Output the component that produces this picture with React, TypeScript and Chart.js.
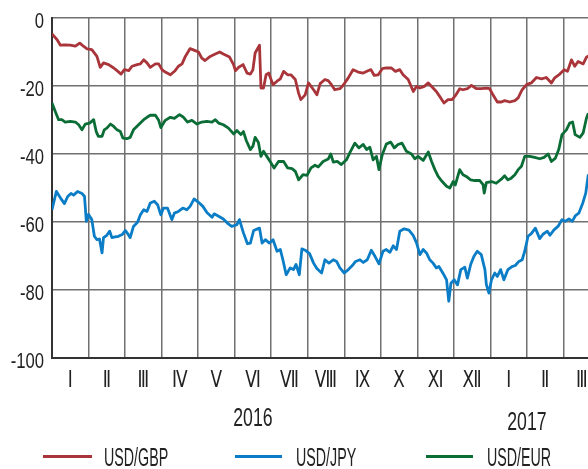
import React, { useEffect, useRef } from "react";
import { Chart, registerables } from "chart.js";

Chart.register(...registerables);

// Month labels (Jan 2016 .. Mar 2017)
const monthLabels = ["Ⅰ", "Ⅱ", "Ⅲ", "Ⅳ", "Ⅴ", "Ⅵ", "Ⅶ", "Ⅷ", "Ⅸ", "Ⅹ", "Ⅺ", "Ⅻ", "Ⅰ", "Ⅱ", "Ⅲ"];
const yearLabels = ["2016", "2017"];
const yTicks = [0, -20, -40, -60, -80, -100];
const seriesNames = ["USD/GBP", "USD/JPY", "USD/EUR"];
const seriesColors = ["#a9353a", "#0a7dc6", "#0b6d36"];

// x = months since start of Jan 2016
const gbpX = [0.00, 0.14, 0.23, 0.36, 0.50, 0.64, 0.76, 0.86, 0.96, 1.09, 1.23, 1.32, 1.41, 1.55, 1.69, 1.78, 1.89, 1.98, 2.10, 2.19, 2.33, 2.42, 2.51, 2.60, 2.69, 2.83, 2.92, 3.01, 3.10, 3.24, 3.37, 3.46, 3.56, 3.65, 3.78, 3.92, 4.01, 4.10, 4.19, 4.33, 4.47, 4.59, 4.69, 4.86, 4.97, 5.02, 5.11, 5.23, 5.34, 5.43, 5.50, 5.56, 5.68, 5.72, 5.79, 5.86, 5.93, 6.05, 6.16, 6.25, 6.34, 6.45, 6.54, 6.66, 6.75, 6.81, 6.93, 7.02, 7.16, 7.25, 7.34, 7.47, 7.56, 7.65, 7.74, 7.88, 7.97, 8.11, 8.24, 8.38, 8.52, 8.65, 8.73, 8.82, 8.93, 9.04, 9.15, 9.29, 9.40, 9.52, 9.61, 9.75, 9.89, 9.98, 10.07, 10.19, 10.30, 10.43, 10.52, 10.64, 10.73, 10.84, 10.95, 11.03, 11.16, 11.25, 11.37, 11.48, 11.62, 11.75, 11.89, 11.98, 12.07, 12.19, 12.30, 12.39, 12.53, 12.67, 12.76, 12.87, 12.99, 13.12, 13.26, 13.40, 13.53, 13.67, 13.76, 13.90, 14.02, 14.11, 14.22, 14.31, 14.40, 14.54, 14.63, 14.68];
const gbpValues = [-4.7, -6.4, -8.0, -7.9, -8.0, -8.3, -7.4, -8.3, -9.1, -9.3, -11.3, -14.5, -13.2, -13.7, -14.7, -15.5, -16.5, -15.2, -15.5, -14.2, -13.7, -13.5, -12.3, -13.2, -14.5, -13.5, -13.5, -15.2, -15.9, -16.7, -15.5, -14.2, -13.5, -11.3, -9.0, -9.6, -10.0, -11.8, -12.5, -11.3, -10.6, -10.0, -10.6, -11.5, -13.7, -15.5, -14.5, -13.7, -16.2, -16.5, -15.2, -10.3, -8.0, -20.6, -20.6, -16.7, -16.2, -19.6, -18.6, -17.9, -15.7, -16.7, -16.7, -18.1, -22.1, -24.0, -22.6, -19.1, -21.1, -22.6, -19.3, -18.1, -18.4, -19.6, -21.1, -20.8, -19.8, -17.6, -15.2, -15.9, -16.2, -15.5, -15.2, -16.9, -16.7, -14.9, -14.7, -14.7, -15.7, -15.2, -16.7, -18.1, -21.6, -20.1, -20.6, -20.1, -19.1, -20.6, -21.6, -23.5, -25.0, -24.0, -24.0, -23.0, -20.8, -21.1, -20.8, -19.8, -20.8, -20.8, -20.6, -20.8, -22.6, -24.7, -24.7, -24.3, -24.7, -24.3, -23.5, -21.1, -19.6, -19.1, -17.5, -17.9, -17.5, -19.1, -17.6, -16.5, -15.2, -15.7, -12.3, -14.2, -12.8, -13.5, -11.5, -11.2];

const jpyX = [0.00, 0.12, 0.23, 0.34, 0.43, 0.52, 0.59, 0.70, 0.82, 0.89, 0.94, 1.00, 1.09, 1.16, 1.23, 1.30, 1.37, 1.41, 1.50, 1.58, 1.64, 1.73, 1.82, 1.92, 2.01, 2.07, 2.14, 2.23, 2.34, 2.42, 2.51, 2.60, 2.69, 2.80, 2.89, 2.98, 3.05, 3.16, 3.28, 3.35, 3.46, 3.58, 3.69, 3.78, 3.89, 4.01, 4.13, 4.24, 4.38, 4.44, 4.56, 4.69, 4.80, 4.92, 5.06, 5.13, 5.24, 5.35, 5.43, 5.52, 5.61, 5.68, 5.75, 5.84, 5.95, 6.05, 6.16, 6.25, 6.32, 6.41, 6.52, 6.61, 6.68, 6.77, 6.84, 6.93, 7.05, 7.16, 7.25, 7.38, 7.47, 7.58, 7.70, 7.79, 7.88, 8.00, 8.11, 8.22, 8.31, 8.43, 8.52, 8.63, 8.74, 8.84, 8.95, 9.06, 9.15, 9.25, 9.34, 9.43, 9.52, 9.64, 9.77, 9.89, 9.98, 10.07, 10.16, 10.25, 10.34, 10.43, 10.52, 10.59, 10.71, 10.80, 10.86, 10.92, 11.01, 11.10, 11.19, 11.30, 11.37, 11.46, 11.55, 11.64, 11.75, 11.85, 11.89, 11.96, 12.03, 12.12, 12.19, 12.28, 12.37, 12.48, 12.59, 12.68, 12.78, 12.87, 12.94, 13.03, 13.12, 13.23, 13.35, 13.44, 13.56, 13.63, 13.74, 13.85, 13.96, 14.05, 14.15, 14.24, 14.33, 14.42, 14.53, 14.61, 14.68];
const jpyValues = [-56.4, -51.0, -52.9, -54.6, -52.5, -51.6, -52.1, -51.0, -51.6, -52.5, -59.8, -57.8, -59.3, -64.2, -65.2, -65.0, -69.1, -64.6, -63.9, -62.7, -64.6, -64.4, -64.2, -63.7, -62.5, -63.4, -64.6, -61.3, -60.1, -57.9, -56.4, -56.9, -54.4, -53.9, -54.9, -57.9, -55.9, -55.9, -59.3, -57.4, -56.9, -55.9, -56.4, -55.4, -53.2, -54.2, -55.4, -57.2, -58.6, -57.6, -58.3, -59.1, -60.3, -61.3, -60.8, -59.3, -63.2, -66.4, -66.2, -62.5, -62.1, -61.8, -66.2, -65.2, -66.2, -65.2, -68.6, -68.1, -71.1, -75.5, -73.5, -74.0, -72.5, -75.5, -67.9, -68.3, -69.3, -72.1, -73.7, -75.0, -71.1, -72.1, -71.1, -71.6, -73.5, -75.0, -74.0, -72.8, -71.6, -71.1, -71.9, -71.1, -68.3, -70.1, -72.3, -68.6, -68.1, -68.9, -67.0, -68.1, -62.7, -62.0, -62.4, -64.0, -66.2, -69.6, -68.1, -69.1, -71.1, -72.1, -73.5, -73.1, -75.2, -77.0, -83.3, -78.0, -77.0, -78.5, -74.0, -73.3, -76.5, -72.5, -70.1, -68.6, -69.6, -74.0, -78.4, -80.9, -77.0, -75.0, -76.0, -74.0, -77.0, -74.0, -73.1, -72.8, -71.6, -71.1, -68.6, -64.2, -63.4, -61.8, -64.9, -63.6, -62.7, -63.9, -62.3, -61.3, -59.3, -59.8, -59.1, -59.8, -58.1, -57.4, -54.4, -51.5, -46.0];

const eurX = [0.00, 0.09, 0.18, 0.27, 0.36, 0.50, 0.64, 0.73, 0.82, 0.91, 1.03, 1.14, 1.21, 1.27, 1.37, 1.43, 1.50, 1.60, 1.69, 1.78, 1.87, 1.94, 2.05, 2.14, 2.23, 2.37, 2.51, 2.60, 2.69, 2.83, 2.92, 2.98, 3.10, 3.24, 3.35, 3.49, 3.60, 3.71, 3.83, 3.97, 4.10, 4.24, 4.38, 4.47, 4.56, 4.69, 4.83, 4.97, 5.06, 5.17, 5.24, 5.32, 5.43, 5.50, 5.56, 5.65, 5.72, 5.79, 5.88, 5.97, 6.08, 6.20, 6.34, 6.45, 6.57, 6.66, 6.75, 6.87, 6.98, 7.09, 7.20, 7.29, 7.42, 7.56, 7.63, 7.70, 7.81, 7.92, 8.06, 8.15, 8.29, 8.40, 8.52, 8.61, 8.70, 8.79, 8.88, 8.95, 9.04, 9.15, 9.27, 9.37, 9.47, 9.58, 9.70, 9.84, 9.93, 10.02, 10.16, 10.30, 10.39, 10.48, 10.57, 10.68, 10.80, 10.89, 10.98, 11.04, 11.16, 11.25, 11.34, 11.46, 11.57, 11.71, 11.80, 11.83, 11.89, 12.03, 12.16, 12.30, 12.39, 12.48, 12.57, 12.67, 12.76, 12.85, 12.94, 13.08, 13.21, 13.35, 13.47, 13.58, 13.67, 13.78, 13.87, 13.96, 14.08, 14.17, 14.25, 14.32, 14.45, 14.54, 14.63, 14.68];
const eurValues = [-25.0, -27.5, -29.9, -29.9, -30.6, -30.4, -30.6, -31.4, -32.9, -31.2, -30.9, -29.9, -33.4, -34.8, -34.8, -32.9, -32.4, -31.2, -31.9, -32.9, -33.4, -35.3, -35.5, -35.1, -32.9, -31.4, -29.9, -29.2, -28.6, -28.6, -30.1, -32.2, -30.1, -29.2, -29.5, -28.4, -29.2, -30.6, -30.1, -31.2, -30.6, -30.4, -30.6, -29.9, -30.9, -31.4, -32.4, -34.1, -33.1, -34.3, -33.4, -36.1, -38.7, -37.7, -35.1, -36.6, -40.7, -39.2, -40.7, -42.2, -44.1, -42.2, -42.2, -44.1, -44.3, -45.1, -47.6, -46.1, -46.3, -44.1, -43.3, -43.8, -42.2, -41.5, -40.0, -42.4, -42.2, -43.1, -41.7, -39.7, -36.8, -38.2, -37.2, -38.7, -38.0, -41.7, -40.7, -44.6, -40.2, -37.1, -36.5, -38.2, -37.2, -36.8, -39.2, -40.0, -41.4, -40.7, -41.9, -39.4, -42.2, -44.6, -46.6, -48.1, -49.5, -50.0, -48.1, -49.1, -44.6, -46.1, -46.6, -47.6, -47.8, -47.8, -49.0, -51.5, -48.4, -48.1, -48.6, -47.4, -46.4, -47.6, -47.1, -46.1, -44.6, -43.6, -40.7, -40.7, -41.0, -41.4, -41.0, -40.0, -42.2, -41.2, -38.7, -34.3, -32.9, -30.9, -30.6, -34.3, -35.1, -33.8, -29.4, -28.0];

const FONT = '"Liberation Sans", Arial, "DejaVu Sans Condensed", sans-serif';
const MONTH_FONT = '"DejaVu Sans Condensed", "Liberation Sans", sans-serif';

function drawText(ctx: CanvasRenderingContext2D, text: string, x: number, y: number, size: number, sx: number, align: CanvasTextAlign, family = FONT) {
  ctx.save();
  ctx.font = `${size}px ${family}`;
  ctx.textAlign = align;
  ctx.textBaseline = "alphabetic";
  ctx.translate(x, y);
  ctx.scale(sx, 1);
  ctx.fillText(text, 0, 0);
  ctx.restore();
}

const labelsPlugin = {
  id: "customLabels",
  afterDraw(chart: any) {
    const ctx: CanvasRenderingContext2D = chart.ctx;
    const xs = chart.scales.x;
    const ys = chart.scales.y;
    ctx.save();
    ctx.fillStyle = "#222";
    // y tick labels
    yTicks.forEach((v) => {
      drawText(ctx, String(v), 44, ys.getPixelForValue(v) + 10, 22.5, 0.74, "right");
    });
    // month labels
    monthLabels.forEach((m, i) => {
      drawText(ctx, m, xs.getPixelForValue(i + 0.5), 387, 23.5, 0.8, "center", MONTH_FONT);
    });
    // year labels
    drawText(ctx, yearLabels[0], xs.getPixelForValue(5.5), 426, 26, 0.68, "center");
    drawText(ctx, yearLabels[1], xs.getPixelForValue(13.0), 430, 26, 0.68, "center");
    // legend
    const legend = [
      { lx0: 43, lx1: 92, tx: 104 },
      { lx0: 235, lx1: 282, tx: 296 },
      { lx0: 426, lx1: 473, tx: 487 },
    ];
    legend.forEach((l, i) => {
      ctx.strokeStyle = seriesColors[i];
      ctx.lineWidth = 3;
      ctx.beginPath();
      ctx.moveTo(l.lx0, 456.5);
      ctx.lineTo(l.lx1, 456.5);
      ctx.stroke();
      ctx.fillStyle = "#222";
      drawText(ctx, seriesNames[i], l.tx, 466, 25, 0.57, "left");
    });
    ctx.restore();
  },
};

function toPoints(xs: number[], ys: number[]) {
  return xs.map((x, i) => ({ x, y: ys[i] }));
}

export default function App() {
  const ref = useRef<HTMLCanvasElement | null>(null);
  useEffect(() => {
    if (!ref.current) return;
    const gridColor = "#707070";
    const chart = new Chart(ref.current, {
      type: "line",
      data: {
        datasets: [
          { label: seriesNames[0], data: toPoints(gbpX, gbpValues), borderColor: seriesColors[0] },
          { label: seriesNames[1], data: toPoints(jpyX, jpyValues), borderColor: seriesColors[1] },
          { label: seriesNames[2], data: toPoints(eurX, eurValues), borderColor: seriesColors[2] },
        ].map((d) => ({ ...d, borderWidth: 2.8, pointRadius: 0, tension: 0, fill: false, borderJoinStyle: "round" as const })),
      },
      options: {
        responsive: false,
        animation: false,
        devicePixelRatio: 1,
        layout: { padding: { left: 52, top: 18, right: 0, bottom: 111 } },
        plugins: { legend: { display: false }, tooltip: { enabled: false } },
        scales: {
          x: {
            type: "linear",
            min: 0,
            max: 15,
            ticks: { stepSize: 1, display: false },
            grid: { color: gridColor, lineWidth: 1.5, drawTicks: false },
            border: { color: "#333", width: 2 },
          },
          y: {
            type: "linear",
            min: -100,
            max: 0,
            ticks: { stepSize: 20, display: false },
            grid: { color: gridColor, lineWidth: 1.5, drawTicks: false },
            border: { color: "#333", width: 2 },
          },
        },
      },
      plugins: [labelsPlugin],
    });
    return () => chart.destroy();
  }, []);
  return (
    <div style={{ position: "fixed", left: 0, top: 0, width: 588, height: 469, overflow: "hidden", background: "#fff" }}>
      <canvas ref={ref} width={600} height={469} style={{ width: 600, height: 469, display: "block" }} />
    </div>
  );
}
